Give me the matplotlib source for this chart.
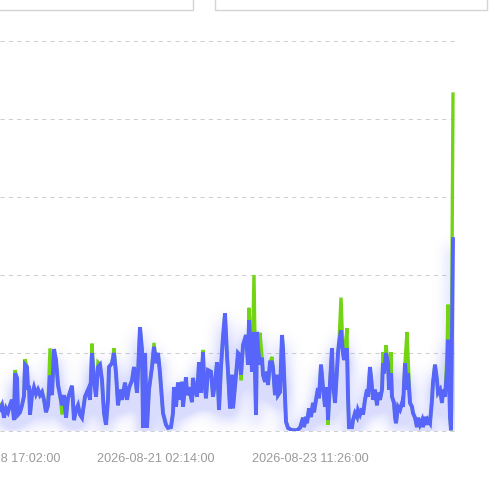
import numpy as np
import matplotlib
matplotlib.use("Agg")
import matplotlib.pyplot as plt
import matplotlib.dates as mdates
from matplotlib.patches import Rectangle
from datetime import datetime, timedelta

# ---------------- data ----------------
START = datetime(2026, 8, 18, 16, 17)
STEP_MIN = 22.29  # minutes between sample numbers

sample_no = [
    0, 2, 4, 6, 8, 10, 12, 14, 15, 17,
    18, 20, 22, 24, 25, 27, 28, 29, 30, 32,
    34, 36, 38, 40, 42, 44, 46, 48, 50, 52,
    54, 56, 58, 60, 62, 64, 66, 68, 70, 72,
    74, 76, 78, 80, 82, 85, 88, 90, 92, 94,
    96, 98, 100, 102, 104, 106, 108, 109, 112, 114,
    116, 118, 120, 122, 125, 127, 129, 132, 134, 137,
    138, 140, 142, 143, 145, 147, 149, 152, 154, 156,
    158, 160, 162, 163, 166, 168, 171, 173, 174, 176,
    178, 180, 182, 183, 186, 187, 189, 192, 193, 195,
    197, 199, 201, 203, 204, 206, 208, 211, 213, 215,
    217, 219, 221, 223, 225, 227, 228, 230, 232, 233,
    236, 238, 240, 241, 243, 246, 248, 249, 251, 252,
    254, 256, 257, 258, 260, 262, 263, 265, 267, 268,
    270, 272, 273, 275, 277, 278, 280, 282, 283, 285,
    286, 288, 292, 297, 300, 303, 304, 306, 307, 309,
    311, 313, 314, 316, 318, 319, 321, 323, 325, 327,
    328, 330, 332, 333, 335, 337, 338, 339, 341, 343,
    344, 345, 347, 348, 349, 352, 353, 355, 357, 358,
    360, 362, 363, 365, 367, 368, 370, 372, 373, 375,
    377, 378, 380, 382, 383, 384, 386, 388, 389, 391,
    392, 394, 395, 396, 398, 400, 402, 403, 405, 407,
    408, 410, 412, 413, 415, 417, 418, 420, 422, 423,
    425, 427, 428, 430, 432, 433, 435, 437, 438, 440,
    442, 443, 445, 447, 448, 450, 451, 453,
]

blue_values = [
    2.7, 3.3, 1.7, 2.9, 2.4, 3.3, 4.0, 1.4, 7.4, 6.8,
    2.1, 2.4, 3.3, 4.5, 8.5, 8.2, 5.3, 5.8, 2.1, 4.6,
    5.6, 4.7, 5.3, 4.6, 5.0, 4.0, 2.4, 3.3, 7.1, 4.6,
    10.5, 9.1, 5.9, 4.6, 3.3, 4.6, 1.7, 4.2, 5.0, 5.8,
    1.4, 2.7, 3.3, 2.1, 1.7, 4.4, 5.3, 4.0, 10.0, 6.5,
    4.4, 8.2, 8.5, 6.5, 2.3, 0.8, 4.0, 8.2, 8.7, 10.0,
    7.4, 3.3, 5.3, 4.0, 6.2, 4.0, 5.5, 6.5, 8.2, 4.9,
    7.4, 13.3, 10.4, 0.4, 10.0, 0.4, 5.3, 8.2, 10.8, 8.7,
    10.0, 7.4, 4.0, 2.3, 0.8, 0.4, 0.5, 2.3, 5.6, 3.1,
    6.2, 4.0, 6.3, 3.1, 6.9, 4.6, 5.6, 3.7, 6.8, 5.3,
    4.4, 8.8, 4.9, 10.1, 6.9, 4.2, 7.8, 7.6, 4.4, 6.2,
    8.8, 2.7, 8.2, 12.1, 15.1, 9.7, 7.6, 2.9, 7.2, 2.9,
    7.2, 10.0, 9.7, 7.2, 11.0, 12.3, 8.5, 14.2, 10.6, 7.6,
    12.7, 2.1, 12.7, 10.6, 8.5, 9.4, 7.2, 6.3, 7.6, 5.9,
    8.8, 8.8, 8.1, 4.6, 7.2, 4.6, 5.0, 12.3, 10.6, 4.2,
    1.2, 0.4, 0.1, 0.1, 0.4, 1.7, 0.5, 1.8, 1.0, 2.9,
    1.8, 3.6, 2.4, 4.0, 5.5, 4.2, 8.5, 5.6, 3.1, 5.6,
    1.4, 6.2, 10.6, 6.2, 3.6, 7.8, 10.0, 11.3, 12.9, 10.0,
    9.1, 10.4, 10.4, 4.4, 0.5, 0.5, 1.4, 2.3, 1.8, 2.7,
    2.1, 2.9, 2.1, 4.0, 5.3, 4.4, 8.2, 5.6, 4.0, 5.3,
    3.3, 4.9, 4.0, 5.3, 8.7, 7.4, 10.0, 8.7, 5.3, 7.4,
    4.4, 3.6, 1.8, 1.0, 3.1, 2.7, 3.6, 3.1, 8.7, 5.3,
    7.4, 3.6, 3.1, 2.3, 1.7, 0.5, 1.7, 0.8, 1.4, 0.5,
    1.8, 0.8, 1.4, 1.0, 4.0, 6.2, 8.5, 6.5, 4.9, 5.3,
    3.6, 5.3, 4.4, 7.8, 11.7, 1.8, 0.1, 24.6,
]

green_values = [
    2.7, 3.6, 1.7, 2.9, 2.4, 3.3, 4.0, 1.4, 7.8, 6.8,
    2.1, 2.4, 3.3, 4.5, 9.2, 8.2, 5.3, 5.8, 2.1, 4.6,
    5.6, 4.7, 5.5, 4.6, 5.0, 4.0, 2.4, 3.3, 10.6, 4.6,
    10.5, 9.1, 5.9, 4.6, 2.1, 4.6, 1.7, 4.2, 5.0, 5.8,
    1.4, 2.7, 3.3, 2.1, 1.7, 4.4, 5.3, 4.0, 11.2, 6.5,
    4.4, 8.8, 8.5, 6.5, 2.3, 0.8, 4.0, 8.2, 8.7, 10.6,
    7.4, 3.3, 5.3, 4.0, 6.2, 4.0, 5.5, 6.5, 8.2, 4.9,
    7.4, 13.3, 10.4, 0.4, 10.0, 0.4, 5.3, 8.2, 11.3, 8.7,
    10.0, 7.4, 4.0, 2.3, 0.8, 0.4, 0.5, 2.3, 5.6, 3.1,
    6.2, 4.0, 6.3, 3.1, 6.9, 4.6, 5.6, 3.7, 6.8, 5.3,
    4.4, 8.8, 4.9, 10.4, 6.9, 4.2, 7.8, 7.6, 4.4, 6.2,
    8.8, 2.7, 8.2, 12.1, 15.1, 9.7, 7.6, 2.9, 7.2, 2.9,
    7.2, 10.0, 9.7, 6.5, 11.0, 12.3, 8.5, 15.8, 10.6, 7.6,
    20.0, 2.1, 12.7, 10.6, 12.6, 9.4, 7.2, 6.3, 7.6, 5.9,
    8.8, 9.5, 8.1, 4.6, 7.2, 4.6, 5.0, 12.3, 10.6, 4.2,
    1.2, 0.4, 0.1, 0.1, 0.4, 1.7, 0.5, 1.8, 1.0, 2.9,
    1.8, 3.6, 2.4, 4.0, 5.5, 4.2, 8.5, 5.6, 3.1, 5.6,
    0.8, 6.2, 10.6, 6.2, 3.6, 7.8, 10.0, 11.3, 17.1, 10.0,
    9.1, 10.4, 13.2, 4.4, 0.5, 0.5, 1.4, 2.3, 1.8, 2.7,
    2.1, 2.9, 2.1, 4.0, 5.3, 4.4, 8.2, 5.6, 4.0, 5.3,
    3.3, 4.9, 4.0, 5.3, 10.1, 7.4, 11.0, 8.7, 5.3, 10.1,
    4.4, 3.6, 1.8, 1.0, 3.1, 2.7, 3.6, 3.1, 8.7, 12.7,
    9.7, 3.6, 3.1, 2.3, 1.7, 0.5, 1.7, 0.8, 1.4, 0.5,
    1.8, 0.8, 1.4, 1.0, 4.0, 6.2, 8.5, 6.5, 4.9, 5.3,
    3.6, 5.3, 4.4, 10.1, 16.2, 1.8, 0.1, 43.2,
]

tick_times = [datetime(2026, 8, 18, 17, 2), datetime(2026, 8, 21, 2, 14),
              datetime(2026, 8, 23, 11, 26)]
y_ticks = [0, 10, 20, 30, 40, 50]

# ---------------- style ----------------
BLUE = "#5865fa"
GREEN = "#72d413"
GRID = "#cfcfcf"
LABEL = "#9a9a9a"
LW_BLUE = 2.8
LW_GREEN = 2.4

W, H = 493, 487
times = [START + timedelta(minutes=STEP_MIN * s) for s in sample_no]
x_end = START + timedelta(minutes=STEP_MIN * 455)
rect = [0 / W, (H - 431) / H, 455 / W, 390 / H]


def setup(ax):
    ax.set_xlim(START, x_end)
    ax.set_ylim(0, 50)


# ---- glow layer rendered offscreen ----
fig2 = plt.figure(figsize=(W / 100, H / 100), dpi=100)
ax2 = fig2.add_axes(rect)
ax2.plot(times, blue_values, color="black", lw=LW_BLUE)
setup(ax2)
ax2.axis("off")
fig2.canvas.draw()
buf = np.asarray(fig2.canvas.buffer_rgba())[:, :, 0].astype(float)
plt.close(fig2)
mask = 1.0 - buf / 255.0


def gblur(a, s):
    r = int(3 * s)
    k = np.exp(-0.5 * (np.arange(-r, r + 1) / s) ** 2)
    k /= k.sum()
    a = np.apply_along_axis(lambda m: np.convolve(m, k, mode="same"), 0, a)
    a = np.apply_along_axis(lambda m: np.convolve(m, k, mode="same"), 1, a)
    return a


bl = gblur(mask, 7.5)
dy = 9
sh = np.zeros_like(bl)
sh[dy:] = bl[:-dy]
sub = sh[41:431, 0:455]
rgb = matplotlib.colors.to_rgb(BLUE)
img = np.zeros(sub.shape + (4,))
img[..., 0], img[..., 1], img[..., 2] = rgb
img[..., 3] = np.clip(sub * 0.65, 0, 0.22)

# ---------------- main figure ----------------
fig = plt.figure(figsize=(W / 100, H / 100), dpi=100)
ax = fig.add_axes(rect)
ax.patch.set_alpha(0)

x0n = mdates.date2num(START)
x1n = mdates.date2num(x_end)
ax.imshow(img, extent=(x0n, x1n, 0, 50), origin="upper", aspect="auto",
          interpolation="bilinear", zorder=1)

for yv in y_ticks:
    ax.axhline(yv, color=GRID, lw=0.75, ls=(0, (4, 4)), zorder=0, clip_on=False)

ax.plot(times, green_values, color=GREEN, lw=LW_GREEN, zorder=2,
        solid_joinstyle="miter")
ax.plot(times, blue_values, color=BLUE, lw=LW_BLUE, zorder=3,
        solid_joinstyle="miter")

setup(ax)
ax.set_xticks(tick_times)
ax.xaxis.set_major_formatter(mdates.DateFormatter("%Y-%m-%d %H:%M:%S"))
ax.set_yticks([])
ax.tick_params(axis="x", length=0, pad=16, labelsize=9.1, labelcolor=LABEL)
for lbl in ax.get_xticklabels():
    lbl.set_fontfamily("Liberation Sans")
for sp in ax.spines.values():
    sp.set_visible(False)

# top boxes (partially visible controls)
for (bx0, bx1) in [(-10, 193), (215, 487)]:
    fig.add_artist(Rectangle((bx0 / W, (H - 10) / H), (bx1 - bx0) / W, 30 / H,
                             transform=fig.transFigure, fill=False,
                             edgecolor="#d3d3da", lw=1.0))

fig.savefig("out.png", dpi=100)
